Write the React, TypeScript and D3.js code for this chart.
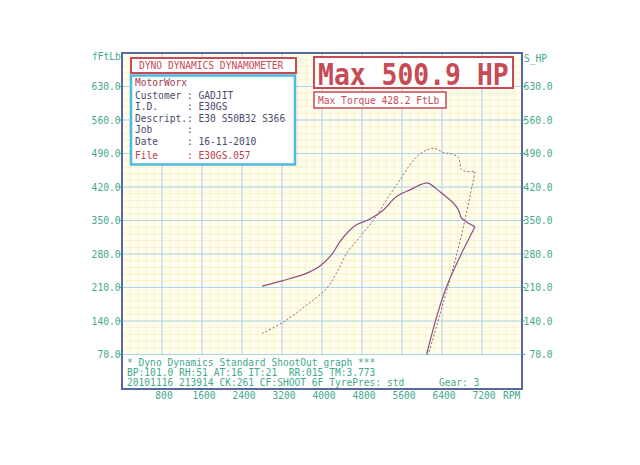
import React from "react";
import * as d3 from "d3";

const torqueRpm = [2800, 3200, 3700, 3960, 4190, 4360, 4530, 4690, 4960, 5230, 5490, 5760, 6000, 6120, 6360, 6630, 6730, 6790, 6890, 7060];
const torqueVal = [213, 224, 240, 255, 278, 306, 327, 341, 353, 372, 400, 414, 426, 428.2, 410, 386, 372, 355, 347, 337];
const torqueDownRpm = [7060, 6493, 6093];
const torqueDownVal = [337, 212, 70];

const powerRpm = [2800, 3230, 3690, 4090, 4290, 4490, 4760, 5030, 5290, 5560, 5830, 6030, 6230, 6430, 6590, 6730, 6790, 6860, 7060];
const powerVal = [114, 138, 173, 208, 240, 281, 316, 351, 393, 435, 476, 494, 500.9, 492, 489, 481, 456, 453, 452];
const powerDownRpm = [7060, 6720, 6430, 6127];
const powerDownVal = [452, 290, 180, 70];

const yTicks = [70, 140, 210, 280, 350, 420, 490, 560, 630];
const xTicks = [800, 1600, 2400, 3200, 4000, 4800, 5600, 6400, 7200];

const infoLines = [
  "Customer : GADJIT",
  "I.D.     : E30GS",
  "Descript.: E30 S50B32 S366",
  "Job      :",
  "Date     : 16-11-2010",
];
const footerLines = [
  "* Dyno Dynamics Standard ShootOut graph ***",
  "BP:101.0 RH:51 AT:16 IT:21  RR:015 TM:3.773",
  "20101116 213914 CK:261 CF:SHOOT_6F TyrePres: std      Gear: 3",
];

const MONO = "'DejaVu Sans Mono', monospace";
const TEAL = "#3fa98c";
const RED = "#c84a55";
const FRAME = "#5a68a2";

export default function App() {
  const x = d3.scaleLinear().domain([0, 8000]).range([122, 522]);
  const y = d3.scaleLinear().domain([70, 700]).range([354.5, 53]);

  const smooth = d3
    .line<[number, number]>()
    .x((d) => x(d[0]))
    .y((d) => y(d[1]))
    .curve(d3.curveCatmullRom.alpha(0.5));
  const straight = d3
    .line<[number, number]>()
    .x((d) => x(d[0]))
    .y((d) => y(d[1]))
    .curve(d3.curveMonotoneY);

  const zip = (a: number[], b: number[]) => a.map((v, i) => [v, b[i]] as [number, number]);

  const minorX = d3.range(0, 8001, 160);
  const minorY = d3.range(70, 701, 14);
  const majorX = d3.range(0, 8001, 800);
  const majorY = d3.range(70, 701, 70);

  return (
    <svg
      width={640}
      height={465}
      style={{ position: "absolute", left: 0, top: 0, background: "#fff" }}
      fontFamily={MONO}
    >
      <rect x={0} y={0} width={640} height={465} fill="#fff" />
      {/* grid area */}
      <rect x={x(0)} y={y(700)} width={x(8000) - x(0)} height={y(70) - y(700)} fill="#fffdee" />
      {minorX.map((v) => (
        <line key={"mx" + v} x1={x(v)} x2={x(v)} y1={y(700)} y2={y(70)} stroke="#f8f1c8" strokeWidth={1} />
      ))}
      {minorY.map((v) => (
        <line key={"my" + v} x1={x(0)} x2={x(8000)} y1={y(v)} y2={y(v)} stroke="#f8f1c8" strokeWidth={1} />
      ))}
      {majorX.map((v) => (
        <line key={"Mx" + v} x1={x(v)} x2={x(v)} y1={y(700)} y2={y(70)} stroke="#acd5eb" strokeWidth={1} />
      ))}
      {majorY.map((v) => (
        <line key={"My" + v} x1={x(0)} x2={x(8000)} y1={y(v)} y2={y(v)} stroke="#acd5eb" strokeWidth={1} />
      ))}

      {/* curves */}
      <path d={smooth(zip(powerRpm, powerVal)) || ""} fill="none" stroke="#9a6479" strokeWidth={1} strokeDasharray="2,2" />
      <path d={straight(zip(powerDownRpm, powerDownVal)) || ""} fill="none" stroke="#9a6479" strokeWidth={1} strokeDasharray="2,2" />
      <path d={smooth(zip(torqueRpm, torqueVal)) || ""} fill="none" stroke="#8c4f86" strokeWidth={1.2} />
      <path d={straight(zip(torqueDownRpm, torqueDownVal)) || ""} fill="none" stroke="#8c4f86" strokeWidth={1.2} />

      {/* frame */}
      <rect x={x(0)} y={53} width={x(8000) - x(0)} height={336} fill="none" stroke={FRAME} strokeWidth={2} />

      {/* y axes */}
      {yTicks.map((v) => (
        <g key={"yt" + v} fontSize={9.6} fill={TEAL}>
          <line x1={x(0) - 3} x2={x(0)} y1={y(v)} y2={y(v)} stroke={TEAL} />
          <line x1={x(8000)} x2={x(8000) + 3} y1={y(v)} y2={y(v)} stroke={TEAL} />
          <text x={120.5} y={y(v) + 3.5} textAnchor="end">{v.toFixed(1)}</text>
          <text x={552.5} y={y(v) + 3.5} textAnchor="end">{v.toFixed(1)}</text>
        </g>
      ))}
      <text x={92} y={60} fontSize={9.6} fill={TEAL}>fFtLb</text>
      <text x={524} y={62} fontSize={9.6} fill={TEAL}>S_HP</text>

      {/* x axis */}
      {xTicks.map((v) => (
        <text key={"xt" + v} x={x(v) + 2} y={398.5} fontSize={9.6} fill={TEAL} textAnchor="middle">
          {v}
        </text>
      ))}
      <text x={503} y={398.5} fontSize={9.6} fill={TEAL}>RPM</text>

      {/* footer text */}
      <rect x={123} y={356} width={398} height={32} fill="#fff" />
      {footerLines.map((t, i) => (
        <text key={"f" + i} x={127} y={365.5 + i * 10.2} fontSize={9.6} fill={TEAL} style={{ whiteSpace: "pre" }}>
          {t}
        </text>
      ))}

      {/* header box */}
      <rect x={131} y={58} width={165} height={15} fill="#fff" stroke={RED} strokeWidth={2} />
      <text x={139} y={69} fontSize={9.6} fill={RED}>DYNO DYNAMICS DYNAMOMETER</text>

      {/* info box */}
      <rect x={131} y={75.5} width={164} height={89} fill="#fff" stroke="#4cb9e2" strokeWidth={2.5} />
      <text x={135} y={86.3} fontSize={9.6} fill="#a8354f">MotorWorx</text>
      {infoLines.map((t, i) => (
        <text key={"i" + i} x={135} y={98.5 + i * 11.6} fontSize={9.6} fill="#4a4a6e" style={{ whiteSpace: "pre" }}>
          {t}
        </text>
      ))}
      <text x={135} y={158.7} fontSize={9.6} fill="#c0404e" style={{ whiteSpace: "pre" }}>
        {"File     : E30GS.057"}
      </text>

      {/* max boxes */}
      <rect x={314} y={57} width={199} height={31} fill="#fff" stroke={RED} strokeWidth={2} />
      <g transform="translate(318,85) scale(1,1.15)">
        <text x={0} y={0} fontSize={26.4} fontWeight="bold" fill={RED} style={{ whiteSpace: "pre" }}>
          Max 500.9 HP
        </text>
      </g>
      <rect x={314} y={92} width={132} height={16} fill="#fff" stroke={RED} strokeWidth={1.5} />
      <text x={318} y={104.3} fontSize={9.6} fill={RED} style={{ whiteSpace: "pre" }}>
        Max Torque 428.2 FtLb
      </text>
    </svg>
  );
}
